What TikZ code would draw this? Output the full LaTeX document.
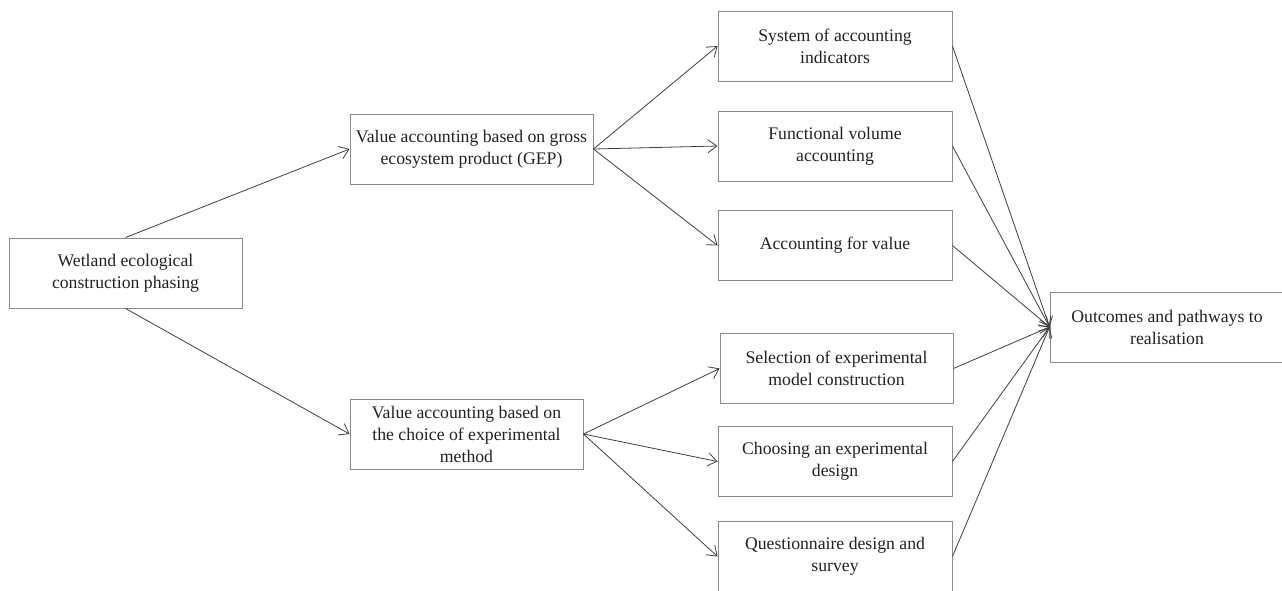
\documentclass[tikz,border=0pt]{standalone}
\usepackage{fontspec}
\setmainfont{Liberation Serif}
\usetikzlibrary{arrows.meta}
\definecolor{boxline}{HTML}{8A8A8A}
\definecolor{arrline}{HTML}{404040}
\definecolor{txt}{HTML}{222222}
\tikzset{
  box/.style={draw=boxline, line width=0.9pt, minimum width=233pt, minimum height=70pt,
    inner sep=0pt, align=center, text=txt, font=\fontsize{17.7}{22}\selectfont},
  conn/.style={draw=arrline, line width=0.8pt, -{Straight Barb[length=9pt,width=13pt]}}
}
\begin{document}
\begin{tikzpicture}[x=1pt,y=-1pt]
\useasboundingbox (0,0) rectangle (1282,590);
\clip (0,0) rectangle (1282,590);
\fill[white] (0,0) rectangle (1282,590);
\node[box] (wet) at (125.5,273) {Wetland ecological\\construction phasing};
\node[box, minimum width=243pt] (gep) at (471.5,149) {Value accounting based on gross\\ecosystem product (GEP)};
\node[box] (exp) at (466.5,434) {Value accounting based on\\the choice of experimental\\method};
\node[box, minimum width=234pt] (sys) at (835,46) {System of accounting\\indicators};
\node[box, minimum width=234pt] (fun) at (835,146) {Functional volume\\accounting};
\node[box, minimum width=234pt] (acc) at (835,245.5) {Accounting for value};
\node[box] (sel) at (836.5,368.5) {Selection of experimental\\model construction};
\node[box, minimum width=234pt] (cho) at (835,461.5) {Choosing an experimental\\design};
\node[box, minimum width=234pt] (que) at (835,556.5) {Questionnaire design and\\survey};
\node[box, minimum width=234pt] (out) at (1167,327) {Outcomes and pathways to\\realisation};
\draw[conn] (wet.north) -- (gep.west);
\draw[conn] (wet.south) -- (exp.west);
\foreach \t in {sys,fun,acc} \draw[conn] (gep.east) -- (\t.west);
\foreach \t in {sel,cho,que} \draw[conn] (exp.east) -- (\t.west);
\foreach \s in {sys,fun,acc,sel,cho,que} \draw[conn] (\s.east) -- (out.west);
\end{tikzpicture}
\end{document}
